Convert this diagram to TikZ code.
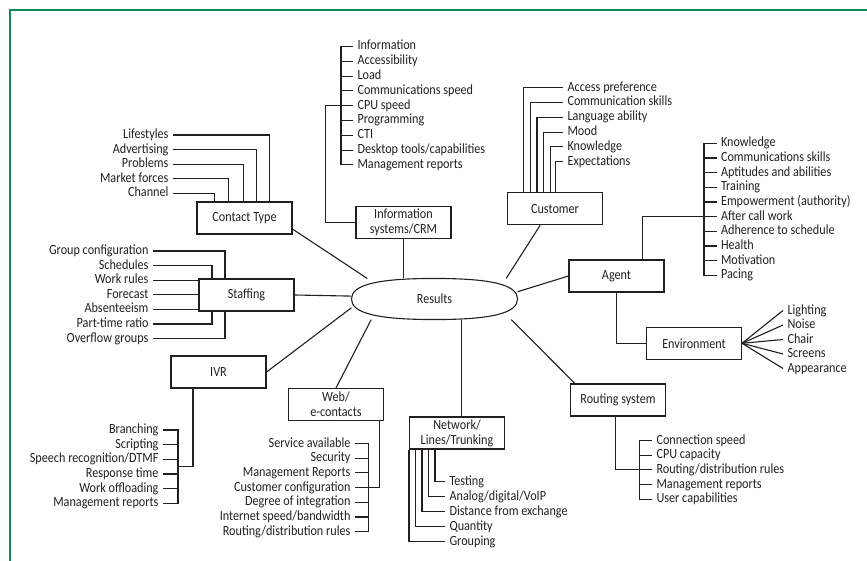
\documentclass[tikz,border=0pt]{standalone}
\usepackage{fontspec}
\setmainfont{Carlito}[FakeStretch=0.87]
\usepackage{tikz}
\usetikzlibrary{positioning,calc}

\definecolor{framegreen}{RGB}{16,138,82}
\definecolor{ink}{RGB}{35,31,32}

\tikzset{
  box/.style={draw, minimum width=95pt, minimum height=32pt, inner sep=1pt,
    align=center, font=\fontsize{14}{15}\selectfont},
  itemr/.style={anchor=east, inner xsep=4pt, inner ysep=0pt, text height=10pt,
    text depth=3pt, font=\fontsize{14}{15}\selectfont},
  iteml/.style={itemr, anchor=west},
}

\begin{document}
\begin{tikzpicture}[x=1pt, y=-1pt, line width=1.1pt, draw=ink, text=ink]
\useasboundingbox (0,0) rectangle (867,561);
\draw[framegreen, line width=2.6pt] (10,561) -- (10,10) -- (867,10);

% hub
\node[minimum width=165pt, minimum height=40pt, inner sep=0pt,
  font=\fontsize{14}{15}\selectfont] (res) at (434.5,299) {Results};
\draw (res.west) .. controls +(0,-14) and +(-58,0) .. (res.north)
  .. controls +(58,0) and +(0,-14) .. (res.east)
  .. controls +(0,14) and +(58,0) .. (res.south)
  .. controls +(-58,0) and +(0,14) .. (res.west) -- cycle;

% boxes
\node[box] (ct) at (244.5,218) {Contact Type};
\node[box] (info) at (403.5,222.5) {Information\\systems/CRM};
\node[box] (cu) at (555,208.8) {Customer};
\node[box] (ag) at (616.5,276) {Agent};
\node[box] (env) at (694,343.3) {Environment};
\node[box] (st) at (246.5,295) {Staffing};
\node[box] (ivr) at (218.5,372) {IVR};
\node[box] (web) at (336,404.5) {Web/\\e-contacts};
\node[box] (net) at (457,433) {Network/\\Lines/Trunking};
\node[box] (rt) at (618,400) {Routing system};

% spokes
\draw (ct.-13) -- (res.163.3);
\draw (info.south) -- (info.south |- res.north);
\draw (cu.-132) -- (res.16.7);
\draw (st.east) -- (res.178.6);
\draw (ag.west) -- (res.5.5);
\draw (ivr.east) -- (res.186.2);
\draw (web.north) -- (res.198);
\coordinate (nt) at ($(net.north)+(4.5,0)$);
\draw (nt) -- (nt |- res.south);
\draw (rt.159) -- (res.-15.6);

% Contact Type
\foreach \t [count=\i] in {Lifestyles, Advertising, Problems, Market forces, Channel}
  \node[itemr] (ctl\i) at (173,{135+14.6*(\i-1)}) {\t};
\foreach \i/\xo in {1/73, 2/60, 3/47, 4/32, 5/18}
  \draw (ctl\i.east) -| ($(ct.north west)+(\xo,0)$);

% Information systems/CRM
\coordinate (infbr) at (341,0);
\coordinate (infj) at (325.5,0);
\foreach \t [count=\i] in {Information, Accessibility, Load, Communications speed,
  CPU speed, Programming, CTI, Desktop tools/capabilities, Management reports}
  \node[iteml] (inf\i) at (353,{46.5+14.8*(\i-1)}) {\t};
\draw (inf1.west) -| (inf9.west -| infbr) -- (inf9.west);
\foreach \i in {2,...,8} \draw (inf\i.west) -- (inf\i.west -| infbr);
\draw (info.west) -| (inf5.west -| infj) -- (inf5.west -| infbr);

% Customer
\foreach \t [count=\i] in {Access preference, Communication skills, Language ability,
  Mood, Knowledge, Expectations}
  \node[iteml] (cs\i) at (563,{87.7+14.8*(\i-1)}) {\t};
\foreach \i/\xo in {1/16.7, 2/23.4, 3/30, 4/36.7, 5/43.4, 6/48.4}
  \draw (cs\i.west) -| ($(cu.north west)+(\xo,0)$);

% Agent
\coordinate (agbr) at (704,0);
\foreach \t [count=\i] in {Knowledge, Communications skills, Aptitudes and abilities,
  Training, Empowerment (authority), After call work, Adherence to schedule,
  Health, Motivation, Pacing}
  \node[iteml] (agl\i) at (716.5,{143.3+14.67*(\i-1)}) {\t};
\draw (agl1.west) -| (agl10.west -| agbr) -- (agl10.west);
\foreach \i in {2,...,9} \draw (agl\i.west) -- (agl\i.west -| agbr);
\draw ($(ag.north)+(26,0)$) |- (agl6.west -| agbr);
\draw (ag.south) |- (env.west);

% Environment
\foreach \t [count=\i] in {Lighting, Noise, Chair, Screens, Appearance}
  \node[iteml] (en\i) at (783,{310.5+14.5*(\i-1)}) {\t};
\foreach \i in {1,...,5} \draw (env.east) -- (en\i.west);

% Staffing
\foreach \t [count=\i] in {Group configuration, Schedules, Work rules, Forecast,
  Absenteeism, Part-time ratio, Overflow groups}
  \node[itemr] (sf\i) at (153,{251+14.6*(\i-1)}) {\t};
\draw (sf1.east) -| ($(st.north west)+(26.5,0)$);
\draw (sf2.east) -| ($(st.north west)+(13.5,0)$);
\foreach \i in {3,4,5} \draw (sf\i.east) -- (sf\i.east -| st.west);
\draw (sf6.east) -| ($(st.south west)+(13.5,0)$);
\draw (sf7.east) -| ($(st.south west)+(26.5,0)$);

% IVR
\coordinate (ivrbr) at (178,0);
\foreach \t [count=\i] in {Branching, Scripting, Speech recognition/DTMF, Response time,
  Work offloading, Management reports}
  \node[itemr] (iv\i) at (163,{430+14.65*(\i-1)}) {\t};
\draw (iv1.east) -| (iv6.east -| ivrbr) -- (iv6.east);
\foreach \i in {2,...,5} \draw (iv\i.east) -- (iv\i.east -| ivrbr);
\draw ($(ivr.south west)+(22.5,0)$) |- ($(iv3.east -| ivrbr)!0.5!(iv4.east -| ivrbr)$);

% Web/e-contacts
\coordinate (webbr) at (368.5,0);
\foreach \t [count=\i] in {Service available, Security, Management Reports,
  Customer configuration, Degree of integration, Internet speed/bandwidth,
  Routing/distribution rules}
  \node[itemr] (wb\i) at (355,{443.5+14.7*(\i-1)}) {\t};
\draw (wb1.east) -| (wb7.east -| webbr) -- (wb7.east);
\foreach \i in {2,...,6} \draw (wb\i.east) -- (wb\i.east -| webbr);
\draw ($(web.south east)+(-4.5,0)$) |- (wb4.east -| webbr);

% Network/Lines/Trunking
\foreach \t [count=\i] in {Testing, Analog/digital/VoIP, Distance from exchange,
  Quantity, Grouping}
  \node[iteml] (nw\i) at (445,{481.7+15*(\i-1)}) {\t};
\foreach \i/\xo in {1/26, 2/19.5, 3/13, 4/6.5, 5/0}
  \draw (nw\i.west) -| ($(net.south west)+(\xo,0)$);

% Routing system
\coordinate (rtbr) at (639.3,0);
\foreach \t [count=\i] in {Connection speed, CPU capacity, Routing/distribution rules,
  Management reports, User capabilities}
  \node[iteml] (rs\i) at (652,{440.7+14.6*(\i-1)}) {\t};
\draw (rs1.west) -| (rs5.west -| rtbr) -- (rs5.west);
\foreach \i in {2,3,4} \draw (rs\i.west) -- (rs\i.west -| rtbr);
\draw ($(rt.south)+(-2.5,0)$) |- (rs3.west -| rtbr);
\end{tikzpicture}
\end{document}
